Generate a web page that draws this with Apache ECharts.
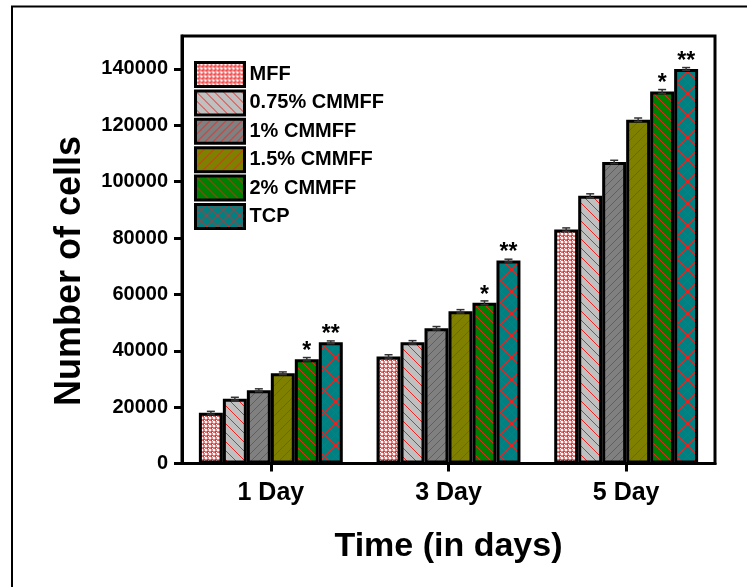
<!DOCTYPE html>
<html>
<head>
<meta charset="utf-8">
<script src="https://cdn.jsdelivr.net/npm/echarts@6/dist/echarts.min.js"></script>
<style>
  html, body { margin: 0; padding: 0; background: #fff; }
  #chart { width: 747px; height: 587px; }
</style>
</head>
<body>
<div id="chart"></div>
<script>
// Cell counts per time point for each scaffold / control
const days = ['1 Day', '3 Day', '5 Day'];
const seriesNames = ['MFF', '0.75% CMMFF', '1% CMMFF', '1.5% CMMFF', '2% CMMFF', 'TCP'];
const mff      = [18000, 38000, 83000];
const cm075    = [23000, 43000, 95000];
const cm1      = [26000, 48000, 107000];
const cm15     = [32000, 54000, 122000];
const cm2      = [37000, 57000, 132000];
const tcp      = [43000, 72000, 140000];
// standard deviations (small error caps)
const errMff   = [500, 600, 600];
const errCm075 = [500, 600, 700];
const errCm1   = [500, 600, 600];
const errCm15  = [500, 600, 600];
const errCm2   = [600, 700, 700];
const errTcp   = [500, 500, 500];
// significance marks above bars
const sigCm2   = ['*', '*', '*'];
const sigTcp   = ['**', '**', '**'];
const yTicks   = [0, 20000, 40000, 60000, 80000, 100000, 120000, 140000];

const values = [mff, cm075, cm1, cm15, cm2, tcp];
const errors = [errMff, errCm075, errCm1, errCm15, errCm2, errTcp];
const marks  = [null, null, null, null, sigCm2, sigTcp];

const RED = 'rgb(235,35,35)';

function tile(size, bg, draw) {
  const c = document.createElement('canvas');
  c.width = size; c.height = size;
  const g = c.getContext('2d');
  g.fillStyle = bg; g.fillRect(0, 0, size, size);
  g.strokeStyle = RED; g.fillStyle = RED; g.lineWidth = 1;
  draw(g, size);
  return { image: c, repeat: 'repeat' };
}
function back(g, s) { // "\" hatching
  g.beginPath();
  g.moveTo(-1, -1); g.lineTo(s + 1, s + 1);
  g.moveTo(-1, s - 1); g.lineTo(1, s + 1);
  g.moveTo(s - 1, -1); g.lineTo(s + 1, 1);
  g.stroke();
}
function fwd(g, s) { // "/" hatching
  g.beginPath();
  g.moveTo(-1, s + 1); g.lineTo(s + 1, -1);
  g.moveTo(-1, 1); g.lineTo(1, -1);
  g.moveTo(s - 1, s + 1); g.lineTo(s + 1, s - 1);
  g.stroke();
}
const patterns = [
  tile(4, RED, (g) => { g.fillStyle = '#fff'; g.beginPath(); g.arc(2, 2, 1.6, 0, Math.PI * 2); g.fill(); g.fillRect(0, 0, 1, 1); }),
  tile(9, '#c0c0c0', back),
  tile(8, '#808080', fwd),
  tile(10, '#808000', fwd),
  tile(10, '#008000', back),
  tile(11, '#008080', (g, s) => { back(g, s); fwd(g, s); })
];

const CAT_GAP = 0.19;
const FONT = 'Liberation Sans, Arial, sans-serif';

const barSeries = seriesNames.map((name, i) => ({
  name: name,
  type: 'bar',
  data: values[i],
  barGap: '0%',
  barCategoryGap: (CAT_GAP * 100) + '%',
  itemStyle: { color: patterns[i], borderColor: '#000', borderWidth: 3 },
  label: marks[i] ? {
    show: true, position: 'top', distance: -4,
    formatter: (p) => marks[i][p.dataIndex],
    fontFamily: FONT, fontWeight: 'bold', fontSize: 23, color: '#000'
  } : { show: false },
  emphasis: { disabled: true },
  z: 2
}));

// error caps drawn over every bar, positioned inside each category band
const errData = [];
values.forEach((arr, s) => arr.forEach((v, j) => errData.push([j, v, errors[s][j], s])));
const errSeries = {
  type: 'custom',
  name: 'err',
  data: errData,
  z: 5,
  silent: true,
  renderItem: function (params, api) {
    const j = api.value(0), v = api.value(1), e = api.value(2), s = api.value(3);
    const band = api.size([1, 0])[0];
    const groupW = band * (1 - CAT_GAP);
    const bw = groupW / seriesNames.length;
    const cx = api.coord([j, 0])[0] - groupW / 2 + bw * (s + 0.5);
    const yHi = api.coord([j, v + e])[1];
    const yLo = api.coord([j, v - e])[1];
    const hw = 4;
    const st = { stroke: '#333', lineWidth: 1.5 };
    return {
      type: 'group',
      children: [
        { type: 'line', shape: { x1: cx, y1: yHi, x2: cx, y2: yLo }, style: st },
        { type: 'line', shape: { x1: cx - hw, y1: yHi, x2: cx + hw, y2: yHi }, style: st },
        { type: 'line', shape: { x1: cx - hw, y1: yLo, x2: cx + hw, y2: yLo }, style: st }
      ]
    };
  }
};

const chart = echarts.init(document.getElementById('chart'), null, { renderer: 'canvas' });
chart.setOption({
  animation: false,
  backgroundColor: '#fff',
  grid: {
    left: 182, right: 32, top: 36, bottom: 123.5,
    show: true, borderColor: '#000', borderWidth: 3, backgroundColor: 'transparent'
  },
  legend: {
    orient: 'vertical',
    left: 194, top: 61,
    padding: 0,
    itemWidth: 49, itemHeight: 24, itemGap: 1.4,
    data: seriesNames,
    selectedMode: false,
    icon: 'rect',
    itemStyle: { borderColor: '#000', borderWidth: 3 },
    textStyle: { fontFamily: FONT, fontWeight: 'bold', fontSize: 20, lineHeight: 24, color: '#000' }
  },
  xAxis: {
    type: 'category',
    data: days,
    axisLine: { lineStyle: { color: '#000', width: 3 } },
    axisTick: { show: true, alignWithLabel: true, length: 8, lineStyle: { color: '#000', width: 3 } },
    axisLabel: { fontFamily: FONT, fontWeight: 'bold', fontSize: 25, color: '#000', margin: 17 },
    name: 'Time (in days)',
    nameLocation: 'middle',
    nameGap: 66,
    nameTextStyle: { fontFamily: FONT, fontWeight: 'bold', fontSize: 34, color: '#000' }
  },
  yAxis: {
    type: 'value',
    min: 0,
    max: 151700,
    interval: 20000,
    splitLine: { show: false },
    axisLine: { show: true, lineStyle: { color: '#000', width: 3 } },
    axisTick: { show: true, length: 8, customValues: yTicks, lineStyle: { color: '#000', width: 3 } },
    axisLabel: {
      fontFamily: FONT, fontWeight: 'bold', fontSize: 20, color: '#000', margin: 14,
      customValues: yTicks,
      formatter: (v) => String(v)
    }
  },
  graphic: [
    {
      type: 'text',
      x: 70, y: 271,
      rotation: Math.PI / 2,
      style: {
        text: 'Number of cells',
        font: 'bold 36px ' + FONT,
        fill: '#000',
        align: 'center',
        verticalAlign: 'middle'
      }
    },
    {
      type: 'rect',
      shape: { x: 12, y: 6.5, width: 900, height: 900 },
      style: { fill: 'none', stroke: '#000', lineWidth: 2 },
      silent: true
    }
  ],
  series: barSeries.concat([errSeries])
});
</script>
</body>
</html>
